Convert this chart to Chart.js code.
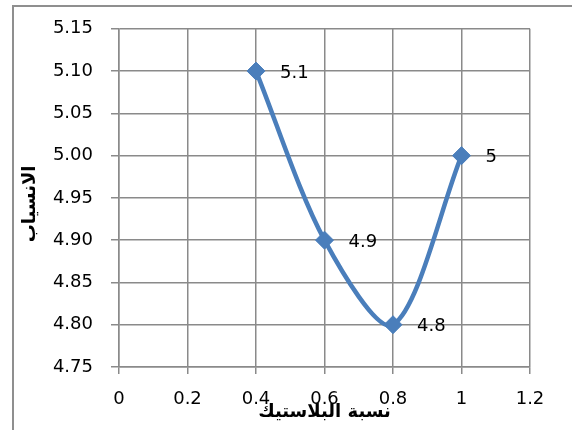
<!DOCTYPE html>
<html>
<head>
<meta charset="utf-8">
<script src="https://cdn.jsdelivr.net/npm/chart.js@4/dist/chart.umd.min.js"></script>
<style>
  html, body { margin: 0; padding: 0; background: #ffffff; overflow: hidden; }
  #wrap { width: 572px; height: 430px; }
</style>
</head>
<body>
<div id="wrap"><canvas id="c" width="572" height="430"></canvas></div>
<script>
// Plastic ratio (x) against flow (y)
const plasticRatio = [0.4, 0.6, 0.8, 1.0];
const flowValues = [5.1, 4.9, 4.8, 5.0];
const flowLabels = ['5.1', '4.9', '4.8', '5'];

const xTickLabels = ['0', '0.2', '0.4', '0.6', '0.8', '1', '1.2'];
const yTickLabels = ['4.75', '4.80', '4.85', '4.90', '4.95', '5.00', '5.05', '5.10', '5.15'];

const xTitle = 'نسبة البلاستيك';
const yTitle = 'الانسياب';

const TICK_FONT = { family: 'DejaVu Sans', size: 18 };
const TITLE_FONT = { family: 'DejaVu Sans', size: 18, weight: 'bold' };
const GRID = '#8a8a8a';
const LINE = '#4a7ebb';

// white page with the frame edges on the left and top
const framePlugin = {
  id: 'frame',
  beforeDraw(chart) {
    const ctx = chart.ctx;
    ctx.save();
    ctx.fillStyle = '#ffffff';
    ctx.fillRect(0, 0, chart.width, chart.height);
    ctx.strokeStyle = '#8f8f8f';
    ctx.lineWidth = 2;
    ctx.beginPath();
    ctx.moveTo(13, chart.height);
    ctx.lineTo(13, 6);
    ctx.lineTo(chart.width, 6);
    ctx.stroke();
    ctx.restore();
  }
};

// rotated title for the value axis, placed beside its tick labels
const yTitlePlugin = {
  id: 'yTitle',
  afterDraw(chart) {
    const ctx = chart.ctx;
    const area = chart.chartArea;
    ctx.save();
    ctx.font = `${TITLE_FONT.weight} ${TITLE_FONT.size}px "${TITLE_FONT.family}"`;
    ctx.fillStyle = '#000000';
    ctx.textAlign = 'center';
    ctx.textBaseline = 'middle';
    ctx.translate(30, (area.top + area.bottom) / 2 + 6);
    ctx.rotate(-Math.PI / 2);
    ctx.fillText(yTitle, 0, 0);
    ctx.restore();
  }
};

// value label to the right of each marker
const valueLabels = {
  id: 'valueLabels',
  afterDatasetsDraw(chart) {
    const ctx = chart.ctx;
    const meta = chart.getDatasetMeta(0);
    ctx.save();
    ctx.font = `${TICK_FONT.size}px "${TICK_FONT.family}"`;
    ctx.fillStyle = '#000000';
    ctx.textAlign = 'left';
    ctx.textBaseline = 'middle';
    meta.data.forEach((pt, i) => {
      ctx.fillText(flowLabels[i], pt.x + 24, pt.y + 2);
    });
    ctx.restore();
  }
};

new Chart(document.getElementById('c'), {
  type: 'scatter',
  data: {
    datasets: [{
      data: plasticRatio.map((x, i) => ({ x: x, y: flowValues[i] })),
      showLine: true,
      borderColor: LINE,
      borderWidth: 4.5,
      tension: 0.3,
      pointStyle: 'rectRot',
      pointRadius: 9,
      pointHoverRadius: 9,
      pointBackgroundColor: LINE,
      pointBorderColor: LINE,
      pointBorderWidth: 1
    }]
  },
  options: {
    responsive: false,
    animation: false,
    events: [],
    layout: { padding: { left: 0, top: 28, right: 42, bottom: 0 } },
    plugins: {
      legend: { display: false },
      tooltip: { enabled: false }
    },
    scales: {
      x: {
        type: 'linear',
        min: 0,
        max: 1.2,
        afterBuildTicks(scale) {
          scale.ticks = xTickLabels.map(v => ({ value: parseFloat(v) }));
        },
        afterFit(scale) { scale.height = 63; },
        ticks: {
          font: TICK_FONT,
          color: '#000000',
          padding: 15,
          maxRotation: 0,
          autoSkip: false,
          callback: (v, i) => xTickLabels[i]
        },
        grid: { color: GRID, lineWidth: 1.5, tickLength: 7, drawTicks: true },
        border: { color: GRID, width: 1.5 },
        title: {
          display: true,
          text: xTitle,
          font: TITLE_FONT,
          color: '#000000',
          padding: { top: 0, bottom: 7 }
        }
      },
      y: {
        type: 'linear',
        min: 4.75,
        max: 5.15,
        afterBuildTicks(scale) {
          scale.ticks = yTickLabels.map(v => ({ value: parseFloat(v) }));
        },
        afterFit(scale) { scale.width = 119; },
        ticks: {
          font: TICK_FONT,
          color: '#000000',
          padding: 18,
          autoSkip: false,
          callback: (v, i) => yTickLabels[i]
        },
        grid: { color: GRID, lineWidth: 1.5, tickLength: 8, drawTicks: true },
        border: { color: GRID, width: 1.5 },
        title: { display: false }
      }
    }
  },
  plugins: [framePlugin, valueLabels, yTitlePlugin]
});
</script>
</body>
</html>
